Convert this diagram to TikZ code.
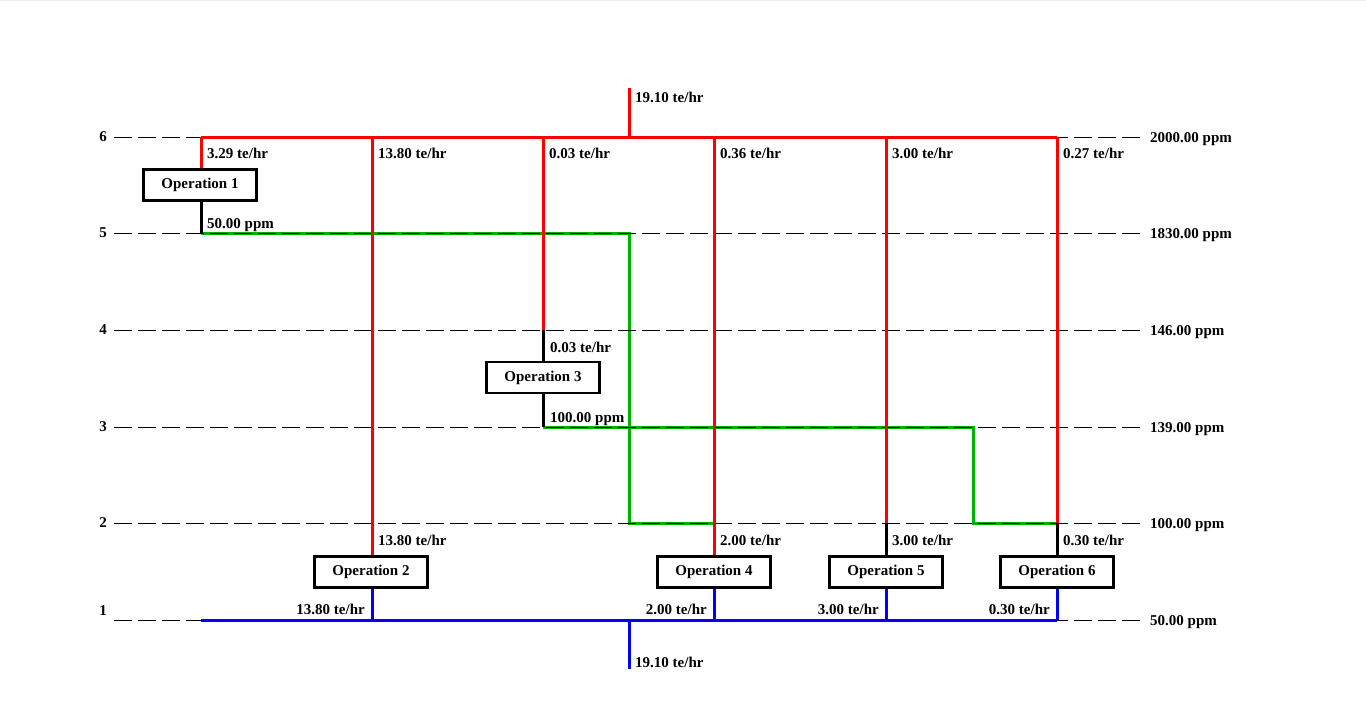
\documentclass[tikz,border=0pt]{standalone}
\usepackage{fontspec}
\setmainfont{Liberation Serif}

\begin{document}
\begin{tikzpicture}[x=1pt, y=-1pt,  % one unit is one pixel, y runs downwards
    every node/.style={font=\fontsize{15}{18}\selectfont\bfseries, inner sep=0pt},
    opbox/.style={draw, line width=2.8pt, fill=white, minimum width=113pt, minimum height=31pt},
    lbl/.style={anchor=base west},
    lblr/.style={anchor=base east},
    level/.style={line width=1pt, dash pattern=on 18pt off 6pt},
    hot/.style={red, line width=3pt},
    cold/.style={blue, line width=3pt},
    reuse/.style={green!70!black, line width=3pt},
    pipe/.style={black, line width=3pt}]

    % Page and margins
    \fill[white] (0,0) rectangle (1366,726);
    \useasboundingbox (0,0) rectangle (1366,726);
    \draw[gray!15, line width=1pt] (0,0.5) -- (1366,0.5);

    % Columns of the six operations
    \foreach \i/\x in {1/201, 2/372, 3/543, 4/714, 5/886, 6/1057} {
        \coordinate (top\i) at (\x,137);
        \coordinate (bot\i) at (\x,620);
    }
    \coordinate (feed) at (629,88);
    \coordinate (feedin) at (629,137);
    \coordinate (drain) at (629,620);
    \coordinate (drainout) at (629,669);
    \coordinate (out1) at (201,233);
    \coordinate (bend1) at (629,233);
    \coordinate (in3) at (543,330);
    \coordinate (out3) at (543,427);
    \coordinate (bend3) at (973,427);
    \coordinate (in4) at (714,523);
    \coordinate (in5) at (886,523);
    \coordinate (in6) at (1057,523);

    % Operation boxes
    \node[opbox] (op1) at (200,185) {Operation 1};
    \node[opbox] (op2) at (371,572) {Operation 2};
    \node[opbox] (op3) at (543,377.5) {Operation 3};
    \node[opbox] (op4) at (714,572) {Operation 4};
    \node[opbox] (op5) at (886,572) {Operation 5};
    \node[opbox] (op6) at (1057,572) {Operation 6};

    % Reused water
    \draw[reuse] (out1) -- (bend1) |- (in4);
    \draw[reuse] (out3) -- (bend3) |- (in6);

    % Concentration levels
    \foreach \n/\y/\c in {6/137/2000.00, 5/233/1830.00, 4/330/146.00,
                          3/427/139.00, 2/523/100.00, 1/620/50.00} {
        \coordinate (L\n) at (114,\y);
        \coordinate (R\n) at (1140,\y);
        \draw[level] (L\n) -- (R\n);
        % The label of level 1 sits higher than the others
        \ifnum\n=1
            \node (num\n) at (103,\y-9) {\n};
        \else
            \node (num\n) at (103,\y) {\n};
        \fi
        \node[lbl] (conc\n) at (1150,\y+5) {\c{} ppm};
    }

    % Fresh water
    \draw[hot] (feed) -- (feedin);
    \draw[hot] (top1) -- (top6);
    \draw[hot] (top1) -- (top1 |- op1.north);
    \draw[hot] (top2) -- (top2 |- op2.north);
    \draw[hot] (top3) -- (in3);
    \draw[hot] (top4) -- (top4 |- op4.north);
    \draw[hot] (top5) -- (in5);
    \draw[hot] (top6) -- (in6);

    % Short links into and out of the boxes
    \draw[pipe] (op1.south -| top1) -- (out1);
    \draw[pipe] (in3) -- (in3 |- op3.north);
    \draw[pipe] (op3.south -| top3) -- (out3);
    \draw[pipe] (in5) -- (in5 |- op5.north);
    \draw[pipe] (in6) -- (in6 |- op6.north);

    % Waste water
    \draw[cold] (bot1) -- (bot6);
    \foreach \i in {2,4,5,6} {
        \draw[cold] (op\i.south -| bot\i) -- (bot\i);
    }
    \draw[cold] (drain) -- (drainout);

    % Flow labels
    \node[lbl] (feedlbl) at (635,102) {19.10 te/hr};
    \node[lbl] (drainlbl) at (635,667) {19.10 te/hr};
    \foreach \i/\f in {1/3.29, 2/13.80, 3/0.03, 4/0.36, 5/3.00, 6/0.27} {
        \node[lbl] (take\i) at ([shift={(6,21)}]top\i) {\f{} te/hr};
    }
    \foreach \i/\f in {2/13.80, 4/2.00, 5/3.00, 6/0.30} {
        \node[lbl] (inlet\i) at ([shift={(6,-75)}]bot\i) {\f{} te/hr};
        \node[lblr] (outlet\i) at ([shift={(-7,-6)}]bot\i) {\f{} te/hr};
    }
    \node[lbl] (ppm1) at (207,228) {50.00 ppm};
    \node[lbl] (inlet3) at (550,352) {0.03 te/hr};
    \node[lbl] (ppm3) at (550,422) {100.00 ppm};

\end{tikzpicture}
\end{document}
